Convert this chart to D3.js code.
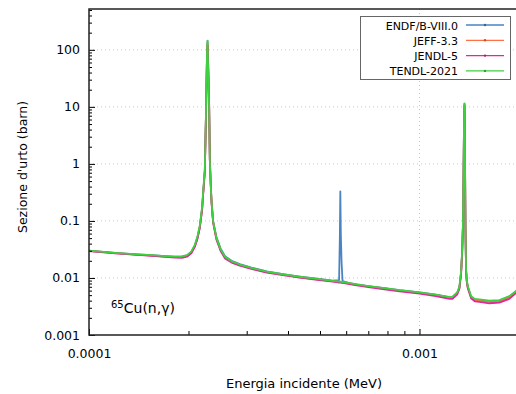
<!DOCTYPE html>
<html>
<head>
<meta charset="utf-8">
<script src="https://cdn.jsdelivr.net/npm/d3@7"></script>
<style>
  body { margin: 0; background: #fff; }
  text { font-family: "DejaVu Sans", Verdana, sans-serif; }
</style>
</head>
<body>
<div></div>
<script>
// incident energy grid (MeV)
var energy = [
  1.00e-4, 1.20e-4, 1.40e-4, 1.55e-4, 1.70e-4, 1.82e-4, 1.91e-4, 1.98e-4, 2.04e-4, 2.09e-4,
  2.13e-4, 2.164e-4, 2.20e-4, 2.214e-4, 2.241e-4, 2.257e-4, 2.268e-4, 2.276e-4, 2.284e-4, 2.292e-4,
  2.309e-4, 2.321e-4, 2.335e-4, 2.348e-4, 2.374e-4, 2.43e-4, 2.50e-4, 2.58e-4, 2.70e-4, 2.86e-4,
  3.10e-4, 3.45e-4, 3.90e-4, 4.34e-4, 4.90e-4, 5.46e-4, 5.71e-4, 5.74e-4, 5.76e-4, 5.78e-4,
  5.81e-4, 5.85e-4, 6.14e-4, 6.46e-4, 7.00e-4, 7.73e-4, 8.70e-4, 1.00e-3, 1.12e-3, 1.233e-3,
  1.258e-3, 1.30e-3, 1.320e-3, 1.336e-3, 1.346e-3, 1.353e-3, 1.358e-3, 1.362e-3, 1.365e-3, 1.368e-3,
  1.371e-3, 1.374e-3, 1.377e-3, 1.383e-3, 1.390e-3, 1.40e-3, 1.432e-3, 1.47e-3, 1.518e-3, 1.627e-3,
  1.745e-3, 1.87e-3, 1.95e-3, 2.00e-3
];

// cross sections (barn), one per library
var endf = [
  0.0300, 0.0275, 0.0258, 0.0250, 0.0241, 0.0236, 0.0236, 0.0248, 0.0285, 0.037,
  0.052, 0.080, 0.17, 0.30, 0.77, 5.7, 29, 90, 143, 60,
  11.4, 1.15, 0.45, 0.23, 0.10, 0.052, 0.033, 0.024, 0.020, 0.0175,
  0.0152, 0.0130, 0.0116, 0.0106, 0.0097, 0.0090, 0.0092, 0.05, 0.33, 0.06,
  0.019, 0.0088, 0.0081, 0.0077, 0.0072, 0.0067, 0.0061, 0.0056, 0.0051, 0.0046,
  0.0046, 0.0055, 0.0068, 0.0125, 0.029, 0.08, 0.4, 2.5, 7.0, 11.3,
  4.0, 0.6, 0.08, 0.0140, 0.0090, 0.0070, 0.0047, 0.0042, 0.0041, 0.0039,
  0.0040, 0.0047, 0.0057, 0.0064
];
var jeff = [
  0.0299, 0.0273, 0.0256, 0.0247, 0.0238, 0.0232, 0.0232, 0.0243, 0.0280, 0.036,
  0.051, 0.078, 0.165, 0.29, 0.75, 5.5, 28, 85, 130, 65,
  11.8, 1.18, 0.44, 0.22, 0.097, 0.049, 0.031, 0.0228, 0.0192, 0.0168,
  0.0147, 0.0127, 0.0113, 0.0103, 0.0095, 0.0088, 0.0085, 0.0085, 0.0085, 0.0085,
  0.0084, 0.0084, 0.0080, 0.0076, 0.0071, 0.0066, 0.0060, 0.0055, 0.0050, 0.0045,
  0.0045, 0.0053, 0.0066, 0.0122, 0.028, 0.078, 0.40, 2.4, 6.8, 11.0,
  4.3, 0.68, 0.088, 0.0138, 0.0088, 0.0068, 0.0046, 0.0041, 0.0040, 0.0038,
  0.0039, 0.0045, 0.0055, 0.0061
];
var jendl = [
  0.0297, 0.0271, 0.0253, 0.0244, 0.0234, 0.0227, 0.0226, 0.0236, 0.0270, 0.035,
  0.049, 0.075, 0.16, 0.28, 0.72, 5.3, 27, 80, 120, 70,
  12, 1.2, 0.43, 0.21, 0.093, 0.047, 0.030, 0.0220, 0.0186, 0.0164,
  0.0144, 0.0124, 0.0111, 0.0101, 0.0093, 0.0086, 0.0083, 0.0083, 0.0083, 0.0083,
  0.0082, 0.0082, 0.0078, 0.0074, 0.0069, 0.0064, 0.0058, 0.0053, 0.0048, 0.0043,
  0.0043, 0.0051, 0.0064, 0.0118, 0.027, 0.075, 0.38, 2.3, 6.5, 10.5,
  4.5, 0.7, 0.09, 0.0135, 0.0086, 0.0066, 0.0044, 0.0039, 0.0038, 0.0036,
  0.0037, 0.0043, 0.0053, 0.0059
];
var tendl = [
  0.0302, 0.0276, 0.0259, 0.0251, 0.0242, 0.0237, 0.0238, 0.0252, 0.0292, 0.038,
  0.054, 0.083, 0.18, 0.31, 0.80, 6.0, 30, 95, 145, 55,
  10.5, 1.10, 0.44, 0.22, 0.098, 0.050, 0.032, 0.0235, 0.0196, 0.0172,
  0.0150, 0.0129, 0.0115, 0.0105, 0.0096, 0.0089, 0.0086, 0.0086, 0.0086, 0.0086,
  0.0085, 0.0085, 0.0081, 0.0077, 0.0072, 0.0067, 0.0061, 0.0056, 0.0051, 0.0046,
  0.0047, 0.0056, 0.0070, 0.0130, 0.030, 0.085, 0.45, 2.8, 7.5, 11.5,
  4.2, 0.65, 0.085, 0.0145, 0.0093, 0.0072, 0.0048, 0.0043, 0.0042, 0.0040,
  0.0041, 0.0048, 0.0058, 0.0065
];

var libNames = ["ENDF/B-VIII.0", "JEFF-3.3", "JENDL-5", "TENDL-2021"];
var libColors = ["#4a84c4", "#ff7043", "#e0289c", "#3fd03f"];
var libValues = [endf, jeff, jendl, tendl];

var xTicks = [0.0001, 0.001];
var xTickLabels = ["0.0001", "0.001"];
var yTicks = [0.001, 0.01, 0.1, 1, 10, 100];
var yTickLabels = ["0.001", "0.01", "0.1", "1", "10", "100"];

var W = 516, H = 394;
var margin = {top: 9, right: -3, bottom: 59, left: 89},
    width = W - margin.left - margin.right,
    height = H - margin.top - margin.bottom;

var x = d3.scaleLog().domain([1e-4, 2e-3]).range([0, width]);
var y = d3.scaleLog().domain([0.001, 520]).range([height, 0]);

var svg = d3.select("body").select("div").append("svg")
    .attr("width", W)
    .attr("height", H)
    .style("display", "block");

var g = svg.append("g")
    .attr("transform", "translate(" + margin.left + "," + margin.top + ")");

g.append("clipPath").attr("id", "clip")
  .append("rect").attr("width", width).attr("height", height);

// dotted grid at the major decades
g.selectAll(".ygrid")
    .data(yTicks.slice(1))
    .enter().append("line")
    .attr("x1", 0).attr("x2", width)
    .attr("y1", function(d) { return y(d); })
    .attr("y2", function(d) { return y(d); })
    .style("stroke", "#c8c8c8")
    .style("stroke-dasharray", "1,3");

g.selectAll(".xgrid")
    .data(xTicks.slice(1))
    .enter().append("line")
    .attr("x1", function(d) { return x(d); })
    .attr("x2", function(d) { return x(d); })
    .attr("y1", 0).attr("y2", height)
    .style("stroke", "#c8c8c8")
    .style("stroke-dasharray", "1,3");

// the curves
var line = d3.line()
    .x(function(d) { return x(d[0]); })
    .y(function(d) { return y(d[1]); });

libValues.forEach(function(vals, i) {
    var pts = energy.map(function(e, k) { return [e, vals[k]]; });
    g.append("path")
        .datum(pts)
        .attr("clip-path", "url(#clip)")
        .attr("d", line)
        .style("fill", "none")
        .style("stroke", libColors[i])
        .style("stroke-width", 1.8)
        .style("stroke-linejoin", "round");
});

// ticks (pointing inwards)
var yMinor = [];
[0.001, 0.01, 0.1, 1, 10, 100].forEach(function(dec) {
    for (var m = 2; m <= 9; m++) if (dec * m < 520) yMinor.push(dec * m);
});
var xMinor = [];
[1e-4, 1e-3].forEach(function(dec) {
    for (var m = 2; m <= 9; m++) if (dec * m <= 2e-3) xMinor.push(dec * m);
});

g.append("g")
    .call(d3.axisLeft(y).tickValues(yTicks).tickFormat(function(d, i) { return yTickLabels[i]; })
        .tickSizeInner(-6).tickSizeOuter(0).tickPadding(9))
    .call(function(a) { a.select(".domain").remove(); })
    .selectAll("text")
    .style("font-family", "DejaVu Sans, Verdana, sans-serif")
    .style("font-size", "12.5px")
    .style("fill", "#000");

g.append("g")
    .call(d3.axisLeft(y).tickValues(yMinor).tickFormat("").tickSizeInner(-3).tickSizeOuter(0))
    .call(function(a) { a.select(".domain").remove(); });

g.append("g")
    .attr("transform", "translate(0," + height + ")")
    .call(d3.axisBottom(x).tickValues(xTicks).tickFormat(function(d, i) { return xTickLabels[i]; })
        .tickSizeInner(-6).tickSizeOuter(0).tickPadding(14))
    .call(function(a) { a.select(".domain").remove(); })
    .selectAll("text")
    .style("font-family", "DejaVu Sans, Verdana, sans-serif")
    .style("font-size", "12.5px")
    .style("fill", "#000");

g.append("g")
    .attr("transform", "translate(0," + height + ")")
    .call(d3.axisBottom(x).tickValues(xMinor).tickFormat("").tickSizeInner(-4).tickSizeOuter(0))
    .call(function(a) { a.select(".domain").remove(); });

// frame
g.append("rect")
    .attr("width", width).attr("height", height)
    .style("fill", "none")
    .style("stroke", "#222")
    .style("stroke-width", 1.5);

// axis titles
svg.append("text")
    .text("Energia incidente (MeV)")
    .attr("x", 304)
    .attr("y", 388)
    .style("text-anchor", "middle")
    .style("font-size", "13px");

svg.append("text")
    .text("Sezione d'urto (barn)")
    .attr("transform", "translate(27,167) rotate(-90)")
    .style("text-anchor", "middle")
    .style("font-size", "12.5px");

// reaction label
var lab = svg.append("text")
    .attr("x", 111)
    .attr("y", 313)
    .style("font-size", "14px");
lab.append("tspan").text("65").attr("dy", -5).style("font-size", "10px");
lab.append("tspan").text("Cu(n,\u03b3)").attr("dy", 5);

// legend
var legend = svg.append("g").attr("class", "legend");

legend.append("rect")
    .attr("x", 360.5).attr("y", 16.5)
    .attr("width", 150).attr("height", 63)
    .style("fill", "#fff")
    .style("stroke", "#666");

libNames.forEach(function(name, i) {
    var ly = 25 + i * 15.3;
    legend.append("text")
        .attr("x", 458)
        .attr("y", ly + 4.5)
        .text(name)
        .style("text-anchor", "end")
        .style("font-size", "11px");
    legend.append("line")
        .attr("x1", 466).attr("x2", 504)
        .attr("y1", ly).attr("y2", ly)
        .style("stroke", libColors[i])
        .style("stroke-width", 1.3);
    legend.append("circle")
        .attr("cx", 485).attr("cy", ly).attr("r", 1.2)
        .style("fill", d3.color(libColors[i]).darker(0.8));
});
</script>
</body>
</html>
